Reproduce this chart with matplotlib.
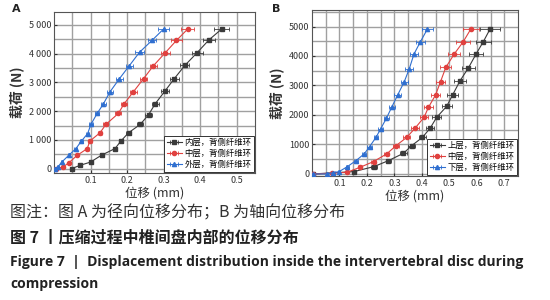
import matplotlib
matplotlib.use("Agg")
import matplotlib.pyplot as plt
from matplotlib.ticker import MultipleLocator, FuncFormatter

plt.rcParams['font.family'] = ['Noto Sans CJK SC', 'DejaVu Sans']

# ---------------- Panel A (radial displacement) ----------------
a_load_inner = [0, 115, 230, 470, 700, 960, 1250, 1540, 1880, 2260, 2690, 3130, 3590, 4040, 4480, 4860]
a_disp_inner = [0.048, 0.071, 0.100, 0.130, 0.167, 0.183, 0.204, 0.236, 0.259, 0.277, 0.303, 0.329, 0.358, 0.392, 0.424, 0.459]
a_err_inner = [0.003, 0.004, 0.004, 0.005, 0.006, 0.006, 0.007, 0.008, 0.009, 0.010, 0.011, 0.012, 0.012, 0.015, 0.016, 0.020]

a_load_mid = [0, 60, 210, 460, 700, 960, 1250, 1540, 1920, 2260, 2670, 3130, 3580, 4040, 4460, 4860]
a_disp_mid = [0.006, 0.025, 0.041, 0.063, 0.091, 0.098, 0.126, 0.142, 0.176, 0.192, 0.217, 0.245, 0.272, 0.305, 0.335, 0.366]
a_err_mid = [0.002, 0.003, 0.003, 0.004, 0.004, 0.005, 0.006, 0.007, 0.008, 0.008, 0.009, 0.010, 0.010, 0.012, 0.014, 0.018]

a_load_out = [0, 70, 240, 460, 700, 960, 1220, 1540, 1920, 2250, 2670, 3130, 3580, 4050, 4460, 4860]
a_disp_out = [0.002, 0.011, 0.022, 0.040, 0.060, 0.075, 0.092, 0.101, 0.118, 0.135, 0.153, 0.179, 0.206, 0.234, 0.268, 0.300]
a_err_out = [0.002, 0.003, 0.003, 0.003, 0.004, 0.004, 0.005, 0.005, 0.006, 0.007, 0.008, 0.009, 0.010, 0.011, 0.012, 0.015]

a_labels = ['内层，背侧纤维环', '中层，背侧纤维环', '外层，背侧纤维环']

# ---------------- Panel B (axial displacement) ----------------
b_load_up = [0, 80, 250, 450, 700, 960, 1240, 1550, 1920, 2290, 2680, 3160, 3590, 4060, 4490, 4910]
b_disp_up = [0.005, 0.153, 0.226, 0.278, 0.333, 0.363, 0.402, 0.430, 0.454, 0.490, 0.512, 0.539, 0.569, 0.597, 0.624, 0.648]
b_err_up = [0.003, 0.008, 0.010, 0.010, 0.012, 0.012, 0.014, 0.015, 0.016, 0.018, 0.020, 0.022, 0.024, 0.026, 0.028, 0.035]

b_load_mid = [0, 25, 55, 225, 420, 680, 960, 1240, 1550, 1920, 2260, 2680, 3130, 3610, 4070, 4490, 4910]
b_disp_mid = [0.005, 0.072, 0.127, 0.175, 0.224, 0.272, 0.306, 0.345, 0.375, 0.408, 0.424, 0.450, 0.468, 0.487, 0.518, 0.551, 0.578]
b_err_mid = [0.003, 0.004, 0.005, 0.007, 0.008, 0.010, 0.011, 0.012, 0.013, 0.014, 0.015, 0.016, 0.018, 0.020, 0.022, 0.025, 0.030]

b_load_low = [0, 0, 45, 80, 250, 450, 680, 930, 1240, 1530, 1890, 2260, 2680, 3130, 3560, 4060, 4490, 4910]
b_disp_low = [0.005, 0.054, 0.078, 0.099, 0.129, 0.160, 0.190, 0.210, 0.233, 0.250, 0.271, 0.290, 0.312, 0.336, 0.354, 0.371, 0.395, 0.420]
b_err_low = [0.002, 0.003, 0.004, 0.004, 0.005, 0.006, 0.007, 0.008, 0.009, 0.010, 0.010, 0.011, 0.012, 0.013, 0.014, 0.015, 0.016, 0.020]

b_labels = ['上层，背侧纤维环', '中层，背侧纤维环', '下层，背侧纤维环']

x_ticks_a = [0.1, 0.2, 0.3, 0.4, 0.5]
x_ticks_b = [0.1, 0.2, 0.3, 0.4, 0.5, 0.6, 0.7]
y_ticks = [0, 1000, 2000, 3000, 4000, 5000]

colors = ['#3a3a3a', '#e0413f', '#2f6fd0']
markers = ['s', 'o', '^']
GRID = '#a0a0a0'

fig = plt.figure(figsize=(5.5, 3.0), dpi=100)
W, H = 550, 300
axA = fig.add_axes([54 / W, 1 - 173 / H, (255 - 54) / W, (173 - 12) / H])
axB = fig.add_axes([312 / W, 1 - 176 / H, (518 - 312) / W, (176 - 10) / H])


def style(ax, xlim, ylim, xt, fmt_space):
    ax.set_xlim(*xlim)
    ax.set_ylim(*ylim)
    ax.set_xticks(xt)
    ax.set_yticks(y_ticks)
    ax.xaxis.set_minor_locator(MultipleLocator(0.05))
    ax.yaxis.set_minor_locator(MultipleLocator(500))
    ax.tick_params(which='major', direction='in', length=2.5, labelsize=6.5, colors='#333333', pad=2)
    ax.tick_params(which='minor', length=0)
    # grid lines drawn at the axis' own tick locations
    xs = list(ax.xaxis.get_majorticklocs()) + list(ax.xaxis.get_minorticklocs())
    ys = list(ax.yaxis.get_majorticklocs()) + list(ax.yaxis.get_minorticklocs())
    for xv in xs:
        if xlim[0] < xv < xlim[1]:
            ax.axvline(xv, color=GRID, linewidth=1.0, zorder=0.5)
    for yv in ys:
        if ylim[0] < yv < ylim[1]:
            ax.axhline(yv, color=GRID, linewidth=1.0, zorder=0.5)
    if fmt_space:
        ax.yaxis.set_major_formatter(FuncFormatter(lambda v, p: '{:,}'.format(int(v)).replace(',', ' ')))
    ax.xaxis.set_major_formatter(FuncFormatter(lambda v, p: ('%.1f' % v)))
    for s in ax.spines.values():
        s.set_color('#555555')
        s.set_linewidth(0.8)
    ax.set_xlabel('位移 (mm)', fontsize=9, color='#333333', labelpad=1)
    ax.set_ylabel('载荷 (N)', fontsize=10, color='#333333', fontweight='bold', labelpad=3)


def draw(ax, series, labels):
    for (d, l, e), c, m, lab in zip(series, colors, markers, labels):
        ax.errorbar(d, l, xerr=e, color=c, marker=m, markersize=3, linewidth=0.8,
                    elinewidth=0.6, capsize=1.2, capthick=0.6, label=lab, zorder=3)
    leg = ax.legend(loc='lower right', fontsize=6, frameon=True, fancybox=False,
                    edgecolor='#333333', borderpad=0.3, labelspacing=0.25, handlelength=1.8,
                    handletextpad=0.3, borderaxespad=0.15, framealpha=1)
    leg.get_frame().set_linewidth(0.7)
    leg.set_zorder(5)


draw(axA, [(a_disp_inner, a_load_inner, a_err_inner),
           (a_disp_mid, a_load_mid, a_err_mid),
           (a_disp_out, a_load_out, a_err_out)], a_labels)
style(axA, (0, 0.55), (-150, 5450), x_ticks_a, True)

draw(axB, [(b_disp_up, b_load_up, b_err_up),
           (b_disp_mid, b_load_mid, b_err_mid),
           (b_disp_low, b_load_low, b_err_low)], b_labels)
style(axB, (0, 0.75), (-70, 5560), x_ticks_b, False)

fig.text(12 / W, 1 - 9 / H, 'A', fontsize=8, fontweight='bold', color='#222222', va='center', ha='left', family='DejaVu Sans')
fig.text(272 / W, 1 - 9 / H, 'B', fontsize=8, fontweight='bold', color='#222222', va='center', ha='left', family='DejaVu Sans')

fig.text(10 / W, 1 - 213 / H, '图注：图 A 为径向位移分布；B 为轴向位移分布', fontsize=11.5, color='#333333', va='center', ha='left')
fig.text(10 / W, 1 - 238 / H, '图 7 丨压缩过程中椎间盘内部的位移分布', fontsize=11.5, color='#222222', fontweight='bold', va='center', ha='left')
fig.text(10 / W, 1 - 262 / H, 'Figure 7  |  Displacement distribution inside the intervertebral disc during',
         fontsize=10, color='#222222', fontweight='bold', va='center', ha='left', family=['Open Sans', 'DejaVu Sans'])
fig.text(10 / W, 1 - 284 / H, 'compression', fontsize=10, color='#222222', fontweight='bold', va='center', ha='left',
         family=['Open Sans', 'DejaVu Sans'])

fig.savefig('out.png', dpi=100)
